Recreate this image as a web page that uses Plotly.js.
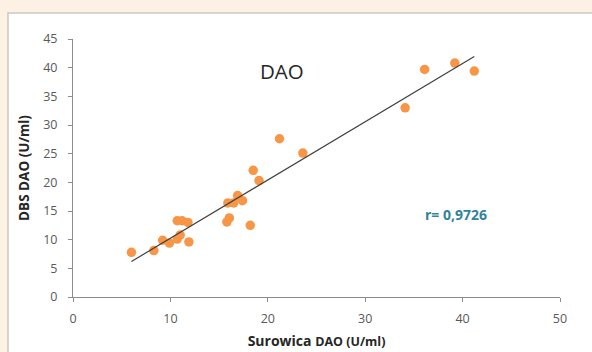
<!DOCTYPE html>
<html>
<head>
<meta charset="utf-8">
<script src="https://cdn.plot.ly/plotly-3.0.1.min.js"></script>
<style>html,body{margin:0;padding:0;background:#FDF1E3;}#chart{width:592px;height:352px;}</style>
</head>
<body>
<div id="chart"></div>
<script>
// Serum DAO (x) vs DBS DAO (y), U/ml
var serumDAO = [6.0, 8.3, 9.2, 9.9, 10.7, 11.0, 10.7, 11.2, 11.8, 11.9, 15.8, 16.05, 15.9, 16.5, 16.9, 17.4, 18.2, 18.5, 19.1, 21.2, 23.6, 34.1, 36.1, 39.2, 41.2];
var dbsDAO   = [7.8, 8.1, 9.9, 9.4, 10.1, 10.8, 13.3, 13.3, 13.0, 9.6, 13.1, 13.8, 16.4, 16.4, 17.7, 16.8, 12.5, 22.1, 20.3, 27.6, 25.1, 33.0, 39.7, 40.8, 39.4];
var xTicks = [0, 10, 20, 30, 40, 50];
var yTicks = [0, 5, 10, 15, 20, 25, 30, 35, 40, 45];
var chartTitle = "DAO";
var rLabel = "r= 0,9726";

// least-squares trend line computed from the data
var n = serumDAO.length, sx = 0, sy = 0, sxx = 0, sxy = 0;
for (var i = 0; i < n; i++) { sx += serumDAO[i]; sy += dbsDAO[i]; sxx += serumDAO[i]*serumDAO[i]; sxy += serumDAO[i]*dbsDAO[i]; }
var slope = (n*sxy - sx*sy) / (n*sxx - sx*sx);
var intercept = (sy - slope*sx) / n;
var xMin = Math.min.apply(null, serumDAO), xMax = Math.max.apply(null, serumDAO);
var trendX = [xMin, xMax];
var trendY = [intercept + slope*xMin, intercept + slope*xMax];

var font = "Open Sans, Lato, sans-serif";
var traces = [
  {x: serumDAO, y: dbsDAO, type: "scatter", mode: "markers",
   marker: {color: "#F79646", size: 9.5}, hoverinfo: "x+y", showlegend: false},
  {x: trendX, y: trendY, type: "scatter", mode: "lines",
   line: {color: "#404040", width: 1.2}, hoverinfo: "skip", showlegend: false}
];

var W = 487; // plot width in px
var H = 258; // plot height in px
var pad = "\u00A0\u00A0\u00A0\u00A0\u00A0\u00A0\u00A0\u00A0";
var layout = {
  width: 592, height: 352,
  margin: {l: 73, r: 32, t: 39, b: 55},
  paper_bgcolor: "#FDF1E3",
  plot_bgcolor: "rgba(0,0,0,0)",
  font: {family: font, color: "#595959", size: 12},
  xaxis: {
    range: [0, 50], tickvals: xTicks, ticktext: xTicks.map(String),
    showgrid: false, zeroline: false, showline: true, linecolor: "#8c8c8c", linewidth: 1,
    ticks: "outside", ticklen: 4, tickcolor: "#8c8c8c", ticklabelstandoff: 6,
    tickfont: {family: font, size: 12.5, color: "#595959"},
    title: {text: "<b>Surowica</b> <b><span style='font-size:12.5px'>DAO (U/ml)</span></b>" + pad + pad,
            font: {family: font, size: 14, color: "#262626"}, standoff: 10}
  },
  yaxis: {
    range: [0, 45], tickvals: yTicks, ticktext: yTicks.map(String),
    showgrid: false, zeroline: false, showline: true, linecolor: "#8c8c8c", linewidth: 1,
    ticks: "outside", ticklen: 4, tickcolor: "#8c8c8c", ticklabelstandoff: 8,
    tickfont: {family: font, size: 12.5, color: "#595959"},
    title: {text: "<b>DBS DAO (U/ml)</b>", font: {family: font, size: 13.5, color: "#262626"}, standoff: 10}
  },
  shapes: [
    {type: "rect", xref: "paper", yref: "paper", layer: "below",
     x0: (8-73)/W, x1: (600-73)/W, y0: (297-360)/H, y1: (297-13)/H,
     fillcolor: "#ffffff", line: {color: "#c9c9c9", width: 1.5}}
  ],
  annotations: [
    {x: 21.5, y: 39.4, xref: "x", yref: "y", text: chartTitle, showarrow: false,
     font: {family: font, size: 20.5, color: "#262626"}},
    {x: 39.3, y: 14.4, xref: "x", yref: "y", text: "<b>" + rLabel + "</b>", showarrow: false,
     font: {family: font, size: 14, color: "#31849B"}}
  ]
};

Plotly.newPlot("chart", traces, layout, {displayModeBar: false, staticPlot: true});
</script>
</body>
</html>
